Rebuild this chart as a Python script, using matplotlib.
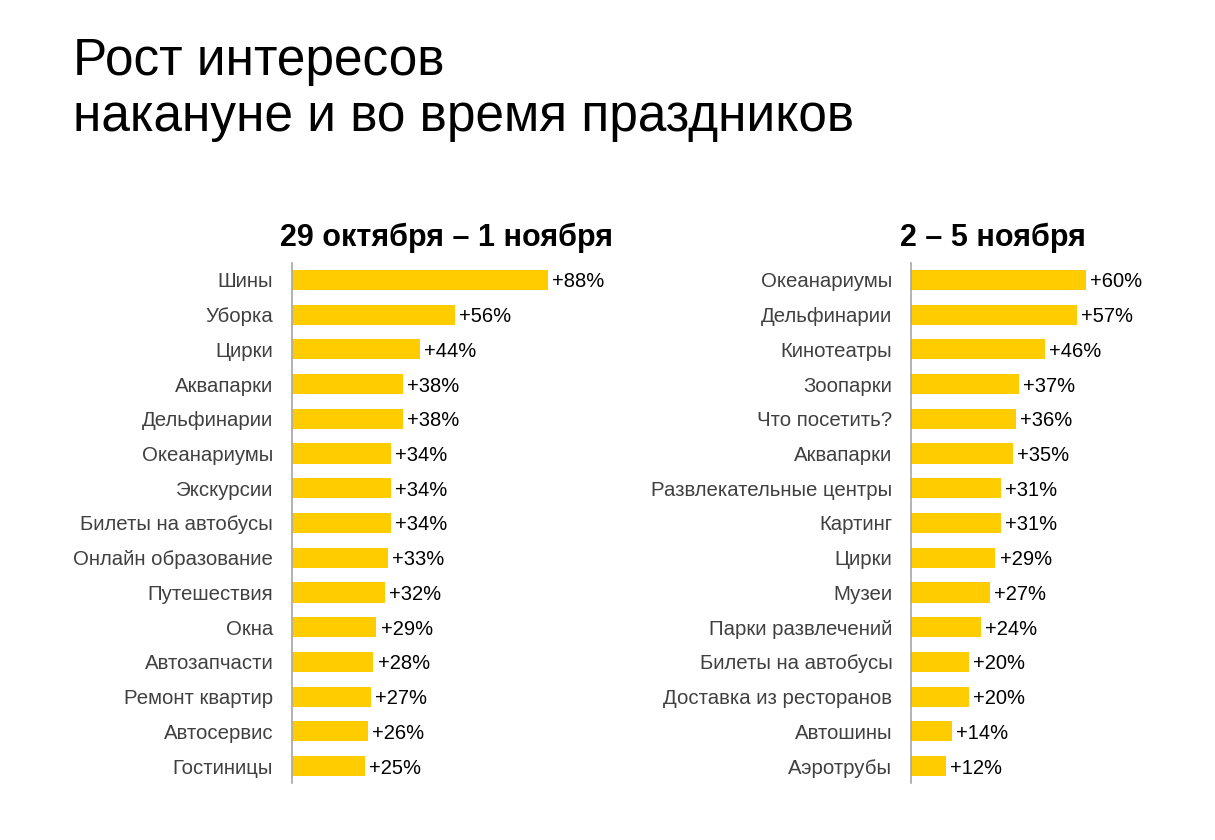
import matplotlib.pyplot as plt

plt.rcParams['font.family'] = ['Liberation Sans', 'DejaVu Sans']

# данные: 29 октября - 1 ноября
left_labels = ["Шины", "Уборка", "Цирки", "Аквапарки", "Дельфинарии", "Океанариумы",
               "Экскурсии", "Билеты на автобусы", "Онлайн образование", "Путешествия",
               "Окна", "Автозапчасти", "Ремонт квартир", "Автосервис", "Гостиницы"]
left_values = [88, 56, 44, 38, 38, 34, 34, 34, 33, 32, 29, 28, 27, 26, 25]

# данные: 2 - 5 ноября
right_labels = ["Океанариумы", "Дельфинарии", "Кинотеатры", "Зоопарки", "Что посетить?",
                "Аквапарки", "Развлекательные центры", "Картинг", "Цирки", "Музеи",
                "Парки развлечений", "Билеты на автобусы", "Доставка из ресторанов",
                "Автошины", "Аэротрубы"]
right_values = [60, 57, 46, 37, 36, 35, 31, 31, 29, 27, 24, 20, 20, 14, 12]

W, H = 1215, 840
fig = plt.figure(figsize=(W / 100, H / 100), dpi=100)

def panel(x0, labels, values, title, title_x):
    ax = fig.add_axes([x0 / W, 1 - 783.4 / H, 291 / W, 520.8 / H])
    pos = list(range(len(labels)))
    ax.barh(pos, values, height=0.58, color='#FFCC00')
    ax.set_ylim(len(labels) - 0.5, -0.5)
    ax.set_xlim(0, 100)
    ax.set_yticks(pos)
    ax.set_yticklabels(labels, fontsize=14.7, color='#404040', va='center_baseline')
    ax.tick_params(axis='y', length=0, pad=13.5)
    ax.set_xticks([])
    for s in ['top', 'right', 'bottom']:
        ax.spines[s].set_visible(False)
    ax.spines['left'].set_color('#A6A6A6')
    ax.spines['left'].set_linewidth(1.2)
    for p, v in zip(pos, values):
        ax.annotate("+%d%%" % v, (v, p), xytext=(3, 0), textcoords='offset points',
                    va='center_baseline', ha='left', fontsize=14.5, color='black')
    fig.text(title_x / W, 1 - 238 / H, title, fontsize=22, fontweight='bold',
             ha='center', va='center')

panel(292, left_labels, left_values, "29 октября – 1 ноября", 447)
panel(911, right_labels, right_values, "2 – 5 ноября", 993)

fig.text(73 / W, 1 - 62 / H, "Рост интересов", fontsize=37, va='center', ha='left')
fig.text(73 / W, 1 - 117 / H, "накануне и во время праздников", fontsize=37,
         va='center', ha='left')

fig.savefig("out.png", dpi=100)
